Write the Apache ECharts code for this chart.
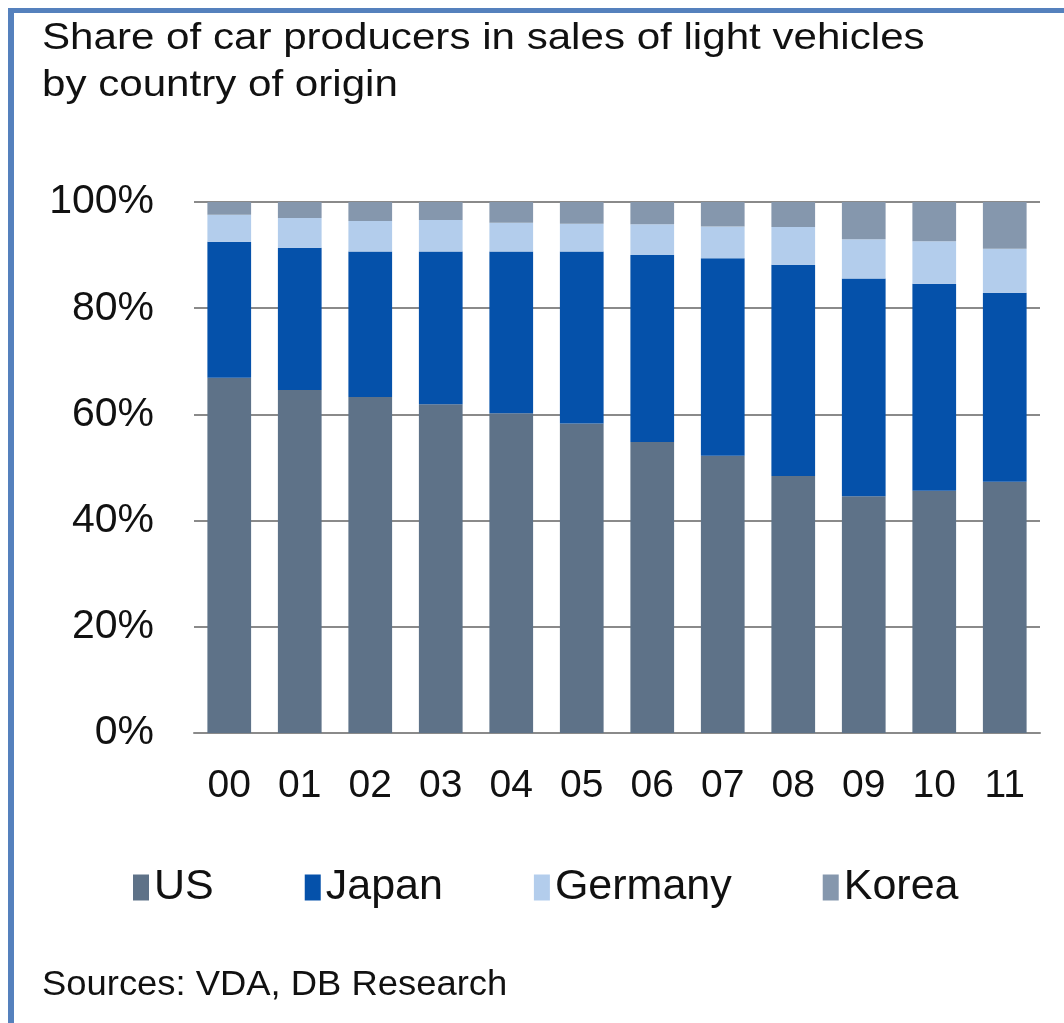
<!DOCTYPE html>
<html><head><meta charset="utf-8">
<script src="https://cdn.jsdelivr.net/npm/echarts@6/dist/echarts.min.js"></script>
<style>html,body{margin:0;padding:0;background:#fff}#c{width:1064px;height:1023px}</style>
</head><body><div id="c"></div>
<script>
const years = ['00','01','02','03','04','05','06','07','08','09','10','11'];
const us      = [66.9, 64.6, 63.3, 61.9, 60.2, 58.3, 54.8, 52.2, 48.4, 44.6, 45.6, 47.3];
const japan   = [25.6, 26.8, 27.4, 28.8, 30.5, 32.4, 35.2, 37.2, 39.8, 41.0, 39.0, 35.6];
const germany = [5.1, 5.6, 5.7, 5.9, 5.4, 5.2, 5.8, 6.0, 7.1, 7.4, 8.0, 8.3];
const korea   = [2.4, 3.0, 3.6, 3.4, 3.9, 4.1, 4.2, 4.6, 4.7, 7.0, 7.4, 8.8];
const names = ['US','Japan','Germany','Korea'];
const colors = ['#5e7288','#0551aa','#b3cdec','#8597ad'];
const title1 = 'Share of car producers in sales of light vehicles';
const title2 = 'by country of origin';
const source = 'Sources: VDA, DB Research';

const font = 'Arial, "Liberation Sans", sans-serif';
const chart = echarts.init(document.getElementById('c'), null, {renderer:'canvas'});
const mk = (name, data, i) => ({
  name, type:'bar', stack:'s', data, barCategoryGap:'38%',
  itemStyle:{color:colors[i]}, emphasis:{disabled:true}
});
chart.setOption({
  animation:false,
  backgroundColor:'#ffffff',
  color:colors,
  grid:{left:194, right:24, top:202, bottom:290, containLabel:false},
  xAxis:{type:'category', data:years,
    axisLine:{show:true, lineStyle:{color:'#8a8a8a', width:2}},
    axisTick:{show:false},
    axisLabel:{color:'#111', fontSize:39, fontFamily:font, margin:34}},
  yAxis:{type:'value', min:0, max:100, interval:20,
    axisLine:{show:false},
    axisTick:{show:false},
    splitLine:{show:true, lineStyle:{color:'#8a8a8a', width:2}},
    axisLabel:{color:'#111', fontSize:41, fontFamily:font, margin:40, formatter:'{value}%'}},
  legend:{data:names, left:128, top:861, itemWidth:16, itemHeight:26, itemGap:91,
    icon:'rect', textStyle:{color:'#111', fontSize:43, fontFamily:font}},
  graphic:[
    {type:'rect', left:8, top:8, shape:{width:1056, height:5}, style:{fill:'#5581bd'}},
    {type:'rect', left:8, top:8, shape:{width:6, height:1015}, style:{fill:'#5581bd'}},
    {type:'text', x:42, y:21, scaleX:1.17, style:{text:title1, fill:'#111', fontSize:36, fontFamily:font, align:'left', verticalAlign:'top'}},
    {type:'text', x:42, y:68, scaleX:1.17, style:{text:title2, fill:'#111', fontSize:36, fontFamily:font, align:'left', verticalAlign:'top'}},
    {type:'text', x:42, y:968, scaleX:1.04, style:{text:source, fill:'#111', fontSize:35, fontFamily:font, align:'left', verticalAlign:'top'}}
  ],
  series:[mk(names[0],us,0), mk(names[1],japan,1), mk(names[2],germany,2), mk(names[3],korea,3)]
});
</script></body></html>
